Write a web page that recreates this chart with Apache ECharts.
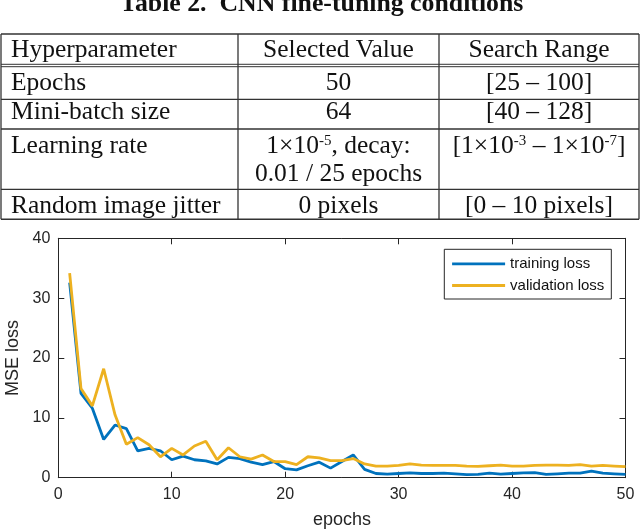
<!DOCTYPE html>
<html>
	<head>
		<meta charset="UTF-8" />
		<script src="https://cdn.jsdelivr.net/npm/echarts@6/dist/echarts.min.js"></script>
		<title>CNN fine-tuning</title>
		<style>
			body {
				margin: 0;
				background-color: #fff;
			}
			#main {
				width: 640px;
				height: 529px;
			}
		</style>
	</head>
	<body>
		<div id="main"></div>
	</body>
</html>

<script>
	// table content
	var tableTitle = 'Table 2.  CNN fine-tuning conditions'
	var tableHeader = ['Hyperparameter', 'Selected Value', 'Search Range']
	var rowNames = ['Epochs', 'Mini-batch size', 'Learning rate', '', 'Random image jitter']
	var selectedValues = ['50', '64', '1×10{sup|-5}, decay:', '0.01 / 25 epochs', '0 pixels']
	var searchRanges = ['[25 – 100]', '[40 – 128]', '[1×10{sup|-3} – 1×10{sup|-7}]', '', '[0 – 10 pixels]']

	// chart data
	var epochs = [1, 2, 3, 4, 5, 6, 7, 8, 9, 10, 11, 12, 13, 14, 15, 16, 17, 18, 19, 20, 21, 22, 23, 24, 25,
		26, 27, 28, 29, 30, 31, 32, 33, 34, 35, 36, 37, 38, 39, 40, 41, 42, 43, 44, 45, 46, 47, 48, 49, 50]
	var trainingLoss = [32.6, 14.1, 11.6, 6.4, 8.8, 8.2, 4.5, 4.9, 4.5, 3.0,
		3.6, 3.0, 2.8, 2.3, 3.4, 3.2, 2.6, 2.2, 2.7, 1.5,
		1.3, 2.0, 2.6, 1.6, 2.7, 3.8, 1.4, 0.7, 0.6, 0.7,
		0.8, 0.7, 0.7, 0.75, 0.65, 0.5, 0.55, 0.75, 0.6, 0.7,
		0.8, 0.85, 0.55, 0.65, 0.75, 0.75, 1.1, 0.75, 0.65, 0.55]
	var validationLoss = [34.2, 14.9, 12.0, 18.2, 10.5, 5.6, 6.7, 5.5, 3.5, 4.9,
		3.8, 5.3, 6.1, 3.0, 5.0, 3.5, 3.1, 3.8, 2.7, 2.7,
		2.2, 3.5, 3.3, 2.85, 2.85, 3.2, 2.3, 1.95, 1.95, 2.05,
		2.3, 2.1, 2.05, 2.05, 2.05, 1.95, 1.9, 2.0, 2.1, 1.95,
		1.95, 2.05, 2.1, 2.1, 2.05, 2.2, 1.95, 2.05, 1.95, 1.85]
	var xTicks = [0, 10, 20, 30, 40, 50]
	var yTicks = [0, 10, 20, 30, 40]

	var serif = '"Liberation Serif", "Times New Roman", serif'
	var sans = '"Liberation Sans", Arial, sans-serif'
	var axisColor = '#262626'

	// table layout
	var colX = [1, 238, 439, 639]
	var baselines = [91.7, 120.5, 155, 183, 214.5]
	var rowLines = [99.3, 129, 189.3]

	function pairs(xs, ys) {
		var out = []
		for (var i = 0; i < xs.length; i++) out.push([xs[i], ys[i]])
		return out
	}

	function cellText(str, x, baseline, align, bold) {
		var size = bold ? 25.8 : 25.5
		return {
			type: 'text',
			x: x,
			y: baseline - 0.3375 * size,
			silent: true,
			style: {
				text: str,
				fill: '#111',
				font: (bold ? 'bold ' : '') + size + 'px ' + serif,
				align: align,
				verticalAlign: 'middle',
				rich: {
					sup: { fontSize: 15, fontFamily: serif, fill: '#111', verticalAlign: 'top', padding: [0, 0, 10, 0] },
				},
			},
		}
	}

	function hLine(y, x1, x2, w) {
		return {
			type: 'line',
			silent: true,
			shape: { x1: x1, y1: y, x2: x2, y2: y },
			style: { stroke: '#333', lineWidth: w || 1.3 },
		}
	}

	function vLine(x, y1, y2) {
		return {
			type: 'line',
			silent: true,
			shape: { x1: x, y1: y1, x2: x, y2: y2 },
			style: { stroke: '#333', lineWidth: 1.3 },
		}
	}

	var tableGraphics = []
	tableGraphics.push(cellText(tableTitle, 321.7, 13, 'center', true))
	// borders
	tableGraphics.push(hLine(34, colX[0], colX[3], 1.6))
	tableGraphics.push(hLine(64.3, colX[0], colX[3], 1))
	tableGraphics.push(hLine(66.7, colX[0], colX[3], 1))
	rowLines.forEach(function (y) {
		tableGraphics.push(hLine(y, colX[0], colX[3]))
	})
	tableGraphics.push(hLine(219.3, colX[0], colX[3], 1.6))
	colX.forEach(function (x) {
		tableGraphics.push(vLine(x, 34, 219.3))
	})
	// header
	tableGraphics.push(cellText(tableHeader[0], 11, 59.3, 'left'))
	tableGraphics.push(cellText(tableHeader[1], (colX[1] + colX[2]) / 2, 59.3, 'center'))
	tableGraphics.push(cellText(tableHeader[2], (colX[2] + colX[3]) / 2, 59.3, 'center'))
	// rows
	for (var r = 0; r < rowNames.length; r++) {
		if (rowNames[r]) tableGraphics.push(cellText(rowNames[r], 11, baselines[r], 'left'))
		if (selectedValues[r]) tableGraphics.push(cellText(selectedValues[r], (colX[1] + colX[2]) / 2, baselines[r], 'center'))
		if (searchRanges[r]) tableGraphics.push(cellText(searchRanges[r], (colX[2] + colX[3]) / 2, baselines[r], 'center'))
	}

	var axisCommon = {
		axisLine: { show: true, onZero: false, lineStyle: { color: axisColor, width: 1 } },
		axisTick: { show: true, inside: true, length: 6, lineStyle: { color: axisColor } },
		splitLine: { show: false },
	}

	var option = {
		animation: false,
		backgroundColor: '#fff',
		textStyle: { fontFamily: sans },
		grid: { left: 58.3, right: 14.5, top: 238.3, bottom: 51.3, outerBoundsMode: 'none' },
		graphic: tableGraphics,
		legend: {
			orient: 'vertical',
			left: 444.3,
			top: 249.3,
			padding: [7, 7, 6, 6.4],
			itemWidth: 53,
			itemHeight: 14,
			itemGap: 6.7,
			borderColor: axisColor,
			borderWidth: 1,
			backgroundColor: '#fff',
			itemStyle: { opacity: 0 },
			lineStyle: { width: 2.8 },
			textStyle: { fontSize: 15, color: '#111', fontFamily: sans },
			data: ['training loss', 'validation loss'],
		},
		xAxis: [
			Object.assign({}, axisCommon, {
				type: 'value',
				position: 'bottom',
				min: xTicks[0],
				max: xTicks[xTicks.length - 1],
				interval: xTicks[1] - xTicks[0],
				name: 'epochs',
				nameLocation: 'middle',
				nameGap: 33,
				nameTextStyle: { fontSize: 18, color: axisColor, fontFamily: sans },
				axisLabel: { fontSize: 16, color: axisColor, margin: 9, fontFamily: sans },
			}),
			Object.assign({}, axisCommon, {
				type: 'value',
				position: 'top',
				min: xTicks[0],
				max: xTicks[xTicks.length - 1],
				interval: xTicks[1] - xTicks[0],
				axisLabel: { show: false },
			}),
		],
		yAxis: [
			Object.assign({}, axisCommon, {
				type: 'value',
				position: 'left',
				min: yTicks[0],
				max: yTicks[yTicks.length - 1],
				interval: yTicks[1] - yTicks[0],
				name: 'MSE loss',
				nameLocation: 'middle',
				nameGap: 31,
				nameTextStyle: { fontSize: 18, color: axisColor, fontFamily: sans },
				axisLabel: { fontSize: 16, color: axisColor, margin: 8, fontFamily: sans },
			}),
			Object.assign({}, axisCommon, {
				type: 'value',
				position: 'right',
				min: yTicks[0],
				max: yTicks[yTicks.length - 1],
				interval: yTicks[1] - yTicks[0],
				axisLabel: { show: false },
			}),
		],
		series: [
			{
				name: 'training loss',
				type: 'line',
				xAxisIndex: 0,
				yAxisIndex: 0,
				symbol: 'none',
				color: '#0072BD',
				lineStyle: { width: 2.8, color: '#0072BD' },
				data: pairs(epochs, trainingLoss),
			},
			{
				name: 'validation loss',
				type: 'line',
				xAxisIndex: 0,
				yAxisIndex: 0,
				symbol: 'none',
				color: '#EDB120',
				lineStyle: { width: 2.8, color: '#EDB120' },
				data: pairs(epochs, validationLoss),
			},
		],
	}

	var myChart = echarts.init(document.getElementById('main'))
	myChart.setOption(option)
</script>
